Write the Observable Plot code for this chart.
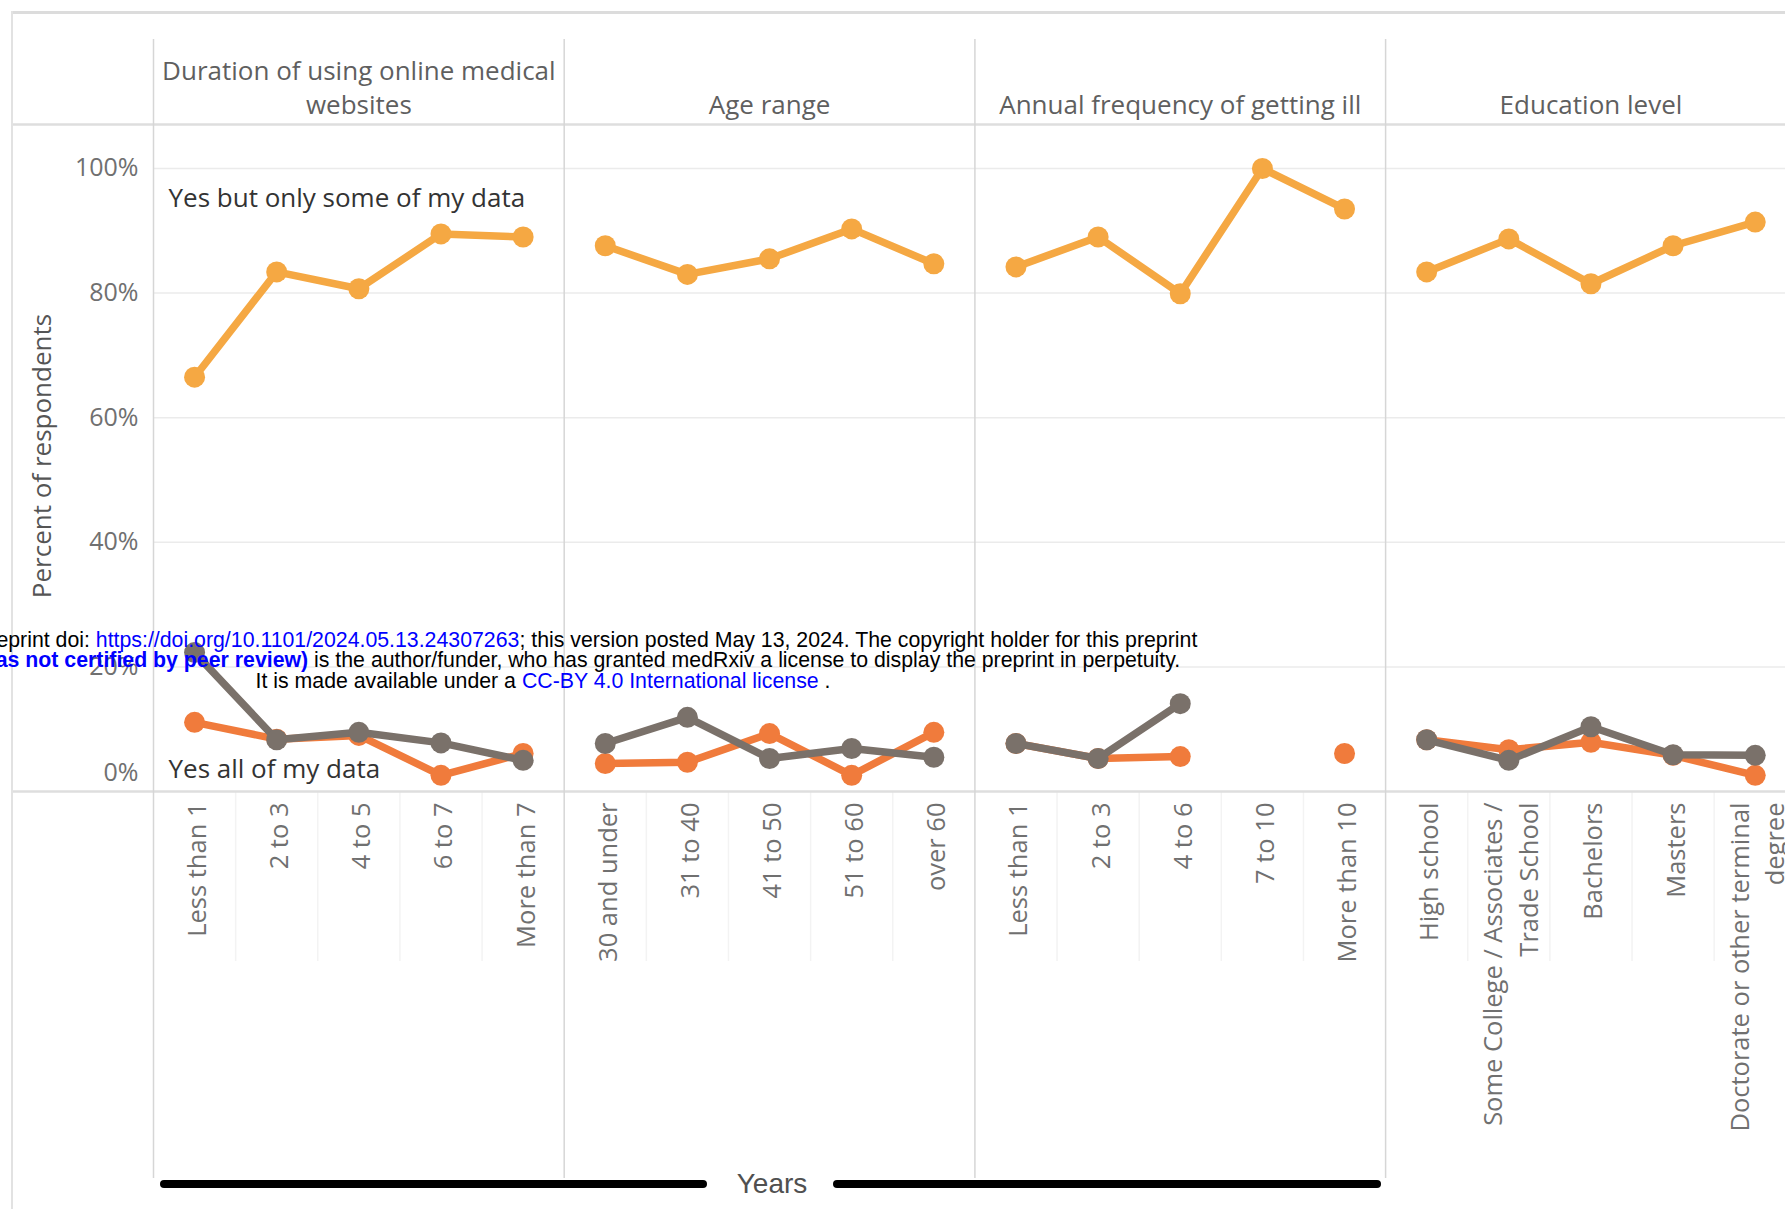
<!DOCTYPE html>
<html>
<head>
<meta charset="utf-8">
<script src="https://cdn.jsdelivr.net/npm/d3@7"></script>
<script src="https://cdn.jsdelivr.net/npm/@observablehq/plot@0.6"></script>
<style>
  html, body { margin: 0; padding: 0; background: #fff; overflow: hidden; }
  #wrap { position: relative; width: 1785px; height: 1209px; overflow: hidden; background: #fff; }
  #chart { position: absolute; left: 0; top: 0; }
  .border-top { position: absolute; left: 12px; top: 11px; width: 1773px; height: 3px; background: #dcdcdc; }
  .border-left { position: absolute; left: 11px; top: 11px; width: 2px; height: 1198px; background: #e2e2e2; }
  .years-line { position: absolute; height: 8px; background: #000; border-radius: 4px; top: 1180px; }
  .years { position: absolute; top: 1168px; left: 772px; transform: translateX(-50%);
           font-family: "Liberation Sans", Arial, sans-serif; font-size: 28px; color: #505050; }
  .wm { position: absolute; left: 543px; transform: translateX(-50%); white-space: nowrap;
        font-family: "Liberation Sans", Arial, sans-serif; font-size: 21.3px; line-height: 20px; color: #000; }
  .wm .lnk { color: #0000ff; }
  .wm b { color: #0000ff; }
</style>
</head>
<body>
<div id="wrap">
  <div id="chart"></div>
  <div class="border-top"></div>
  <div class="border-left"></div>
  <div class="years-line" style="left:160px;width:547px;"></div>
  <div class="years-line" style="left:833px;width:548px;"></div>
  <div class="years">Years</div>
  <div class="wm" style="top:630px;">medRxiv preprint doi: <span class="lnk">https://doi.org/10.1101/2024.05.13.24307263</span>; this version posted May 13, 2024. The copyright holder for this preprint</div>
  <div class="wm" style="top:650px;"><b>(which was not certified by peer review)</b> is the author/funder, who has granted medRxiv a license to display the preprint in perpetuity.</div>
  <div class="wm" style="top:671px;">It is made available under a <span class="lnk">CC-BY 4.0 International license</span> .</div>
</div>
<script>
// ---- Data ----
const panelNames = [
  "Duration of using online medical\nwebsites",
  "Age range",
  "Annual frequency of getting ill",
  "Education level"
];
const durationCats = ["Less than 1", "2 to 3", "4 to 5", "6 to 7", "More than 7"];
const ageCats = ["30 and under", "31 to 40", "41 to 50", "51 to 60", "over 60"];
const illCats = ["Less than 1", "2 to 3", "4 to 6", "7 to 10", "More than 10"];
const eduCats = ["High school", "Some College / Associates /\nTrade School", "Bachelors", "Masters", "Doctorate or other terminal\ndegree"];

const seriesNames = ["Yes but only some of my data", "Yes all of my data", "No"];

// "Yes but only some of my data"
const someDuration = [66.5, 83.4, 80.7, 89.5, 89.0];
const someAge      = [87.6, 83.0, 85.5, 90.3, 84.7];
const someIll      = [84.2, 89.0, 79.9, 100.0, 93.5];
const someEdu      = [83.4, 88.7, 81.5, 87.6, 91.4];

// "Yes all of my data"
const allDuration = [11.1, 8.4, 9.0, 2.6, 6.1];
const allAge      = [4.5, 4.7, 9.3, 2.6, 9.5];
const allIll      = [7.7, 5.3, 5.6, null, 6.1];
const allEdu      = [8.3, 6.7, 7.9, 5.8, 2.6];

// third (grey) series
const noDuration = [22.3, 8.3, 9.5, 7.8, 5.0];
const noAge      = [7.7, 11.9, 5.3, 6.9, 5.5];
const noIll      = [7.7, 5.3, 14.1, null, null];
const noEdu      = [8.3, 5.0, 10.4, 5.9, 5.8];

const yTicks = [0, 20, 40, 60, 80, 100];
const yMax = 107.06;

const colors = {
  "Yes but only some of my data": "#F5A843",
  "Yes all of my data": "#F07B3C",
  "No": "#7A716A"
};

// ---- Build tables ----
const groups = [
  {name: panelNames[0], cats: durationCats, vals: [someDuration, allDuration, noDuration]},
  {name: panelNames[1], cats: ageCats,      vals: [someAge, allAge, noAge]},
  {name: panelNames[2], cats: illCats,      vals: [someIll, allIll, noIll]},
  {name: panelNames[3], cats: eduCats,      vals: [someEdu, allEdu, noEdu]}
];

let offset = 0;
const catRows = [], rows = [], panelRows = [], innerBounds = [], panelBounds = [];
groups.forEach((g, p) => {
  const n = g.cats.length;
  panelRows.push({name: g.name, mid: offset + n / 2});
  panelBounds.push(offset);
  g.cats.forEach((c, i) => {
    const pos = offset + i + 0.5;
    catRows.push({label: c, pos});
    if (i > 0) innerBounds.push(offset + i);
    seriesNames.forEach((s, k) => {
      rows.push({series: s, panel: p, pos, value: g.vals[k][i]});
    });
  });
  offset += n;
});

const W = 1785, H = 1209;
const mLeft = 153, mTop = 124, yBase = 791;
const panelW = 410.7;

const seriesMarks = [];
seriesNames.forEach(s => {
  const d = rows.filter(r => r.series === s);
  seriesMarks.push(Plot.line(d, {x: "pos", y: "value", z: "panel", stroke: colors[s], strokeWidth: 7.5, strokeLinejoin: "round", strokeLinecap: "round"}));
  seriesMarks.push(Plot.dot(d.filter(r => r.value != null), {x: "pos", y: "value", r: 10.5, fill: colors[s], stroke: "none"}));
});

const chart = Plot.plot({
  width: W,
  height: H,
  marginLeft: mLeft,
  marginRight: 0,
  marginTop: mTop,
  marginBottom: H - yBase,
  x: {domain: [0, offset], range: [mLeft, mLeft + panelW * groups.length], axis: null},
  y: {domain: [0, yMax], axis: null},
  style: {fontFamily: "'Open Sans', sans-serif", background: "transparent", overflow: "visible"},
  marks: [
    Plot.gridY(yTicks.filter(v => v > 0), {stroke: "#ebebeb", strokeOpacity: 1, strokeWidth: 1.5}),
    Plot.ruleX(innerBounds, {x: d => d, stroke: "#f3f3f3", strokeWidth: 1.5, insetTop: yBase - mTop, insetBottom: -170}),
    Plot.ruleY([yMax], {y: d => d, stroke: "#dedede", strokeWidth: 2.5, insetLeft: -(mLeft - 12)}),
    Plot.ruleY([0], {y: d => d, stroke: "#dedede", strokeWidth: 2.5, insetLeft: -(mLeft - 12)}),
    Plot.ruleX(panelBounds, {x: d => d, stroke: "#d6d6d6", strokeWidth: 1.5, insetTop: -(mTop - 39), insetBottom: -(1178 - yBase)}),
    ...seriesMarks,
    // panel headers
    Plot.text(panelRows, {x: "mid", text: "name", frameAnchor: "top", lineAnchor: "bottom", dy: -10.5, fontSize: 26, lineHeight: 1.3, fill: "#5f5f5f"}),
    // y tick labels
    Plot.text(yTicks.filter(v => v > 0), {y: d => d, text: d => `${d}%`, frameAnchor: "left", textAnchor: "end", dx: -15, fontSize: 25, fill: "#707070"}),
    Plot.text(yTicks.filter(v => v === 0), {y: d => d, text: d => `${d}%`, frameAnchor: "left", textAnchor: "end", dx: -15, dy: -19, fontSize: 25, fill: "#707070"}),
    // y axis title
    Plot.text(["Percent of respondents"], {text: d => d, frameAnchor: "left", textAnchor: "middle", rotate: -90, dx: -(mLeft - 42), dy: -2, fontSize: 26, fill: "#555"}),
    // x tick labels
    Plot.text(catRows, {x: "pos", text: "label", frameAnchor: "bottom", rotate: -90, textAnchor: "end", lineAnchor: "middle", dy: 11, fontSize: 25.5, lineHeight: 1.4, fill: "#707070"}),
    // series labels
    Plot.text([seriesNames[0]], {text: d => d, frameAnchor: "top-left", textAnchor: "start", lineAnchor: "bottom", dx: 15, dy: 82, fontSize: 26, fill: "#333"}),
    Plot.text([seriesNames[1]], {text: d => d, frameAnchor: "bottom-left", textAnchor: "start", lineAnchor: "bottom", dx: 15, dy: -14, fontSize: 26, fill: "#333"})
  ]
});
document.getElementById("chart").appendChild(chart);
</script>
</body>
</html>
